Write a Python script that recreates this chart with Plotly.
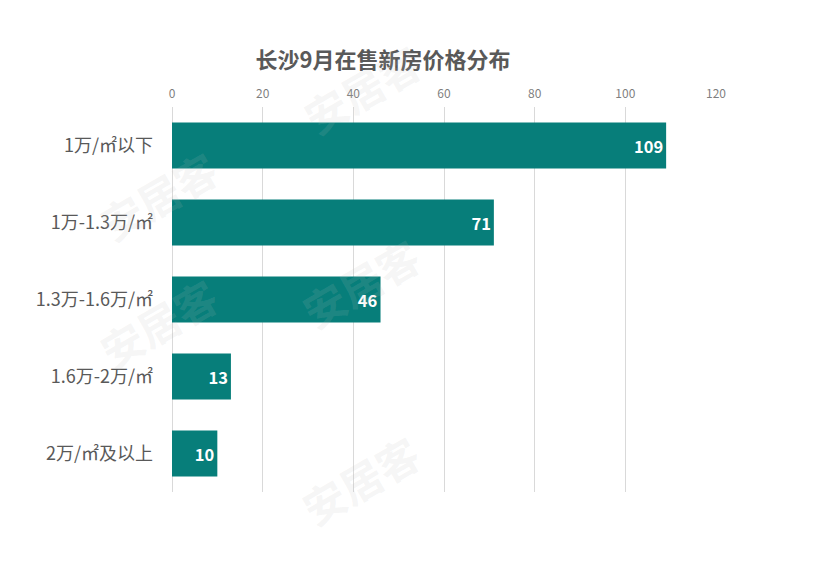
import plotly.graph_objects as go

categories = ["1万/㎡以下", "1万-1.3万/㎡", "1.3万-1.6万/㎡", "1.6万-2万/㎡", "2万/㎡及以上"]
values = [109, 71, 46, 13, 10]
tick_vals = [0, 20, 40, 60, 80, 100, 120]
title_text = "长沙9月在售新房价格分布"
watermark = "安居客"

# page body adds an 8px offset; compensate
OFF = 8
W, H = 823 - OFF, 563 - OFF
L, R, T, B = 172 - OFF, 716 - OFF, 107 - OFF, 492 - OFF


def paper(px, py):
    return ((px - OFF - L) / (R - L), (B - (py - OFF)) / (B - T))


fig = go.Figure()
fig.add_trace(go.Bar(
    y=categories, x=values, orientation="h",
    marker=dict(color="#077e7a", line=dict(width=0)),
    text=[str(v) for v in values], textposition="inside", insidetextanchor="end",
    textfont=dict(color="white", size=16.5, family="Noto Sans CJK SC", weight="bold"),
    width=0.6, cliponaxis=False,
))

# faint watermarks
for (px, py) in [(362, 28), (85, 135), (360, 282), (85, 383), (360, 540)]:
    x, y = paper(px, py)
    fig.add_annotation(text=watermark, x=x, y=y, xref="paper", yref="paper",
                       showarrow=False, textangle=-30,
                       font=dict(size=42, color="rgba(190,190,190,0.15)",
                                 family="Noto Sans CJK SC", weight="bold"))

fig.update_layout(
    width=W, height=H,
    margin=dict(l=L, r=W - R, t=T, b=H - B, pad=0, autoexpand=False),
    paper_bgcolor="white", plot_bgcolor="white",
    showlegend=False,
    bargap=0.4,
    font=dict(family="Noto Sans CJK SC", color="#595959"),
    title=dict(text=title_text, x=(383 - OFF) / W, xanchor="center", y=1 - (60 - OFF) / H, yanchor="middle",
               xref="container", yref="container",
               font=dict(size=22, color="#595959", family="Noto Sans CJK SC", weight="bold")),
    xaxis=dict(side="top", range=[0, 120], tickvals=tick_vals,
               showgrid=True, gridcolor="#d9d9d9", gridwidth=1,
               zeroline=True, zerolinecolor="#d9d9d9", zerolinewidth=1,
               showline=False, ticks="", ticklabelstandoff=6,
               tickfont=dict(size=12, color="#7f7f7f")),
    yaxis=dict(autorange="reversed", showgrid=False, showline=False, zeroline=False,
               ticks="", ticklabelstandoff=18,
               tickfont=dict(size=18, color="#595959")),
)

fig.write_html("out.html")
